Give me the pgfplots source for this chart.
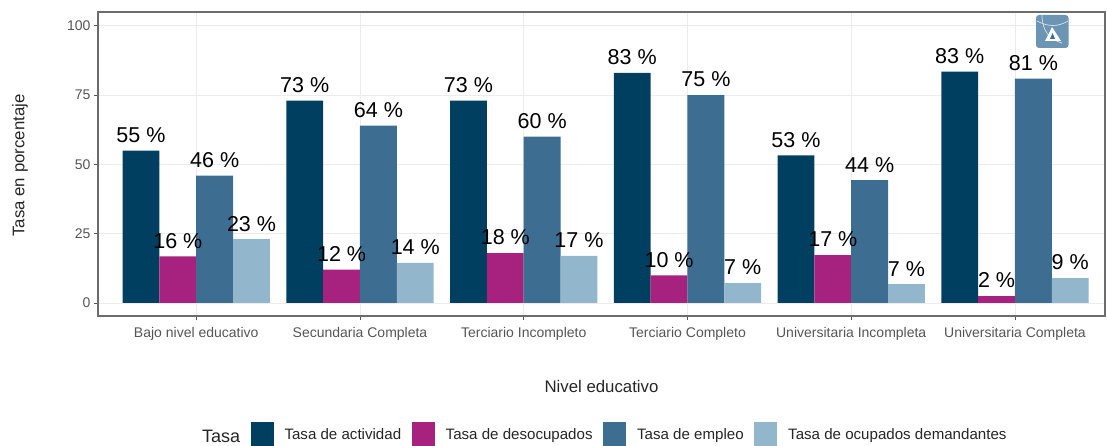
\documentclass[border=0pt]{standalone}
\usepackage{pgfplots}
\pgfplotsset{compat=1.18}
\usepackage{fontspec}
\setmainfont{Liberation Sans}
\definecolor{cA}{HTML}{003F5F}
\definecolor{cB}{HTML}{A6227E}
\definecolor{cC}{HTML}{3E6D92}
\definecolor{cD}{HTML}{92B6CC}
\definecolor{tk}{HTML}{555555}
\definecolor{gr}{HTML}{ECECEC}
\definecolor{logo}{HTML}{6B95B3}
\begin{document}
\begin{tikzpicture}[x=1pt,y=1pt]
\path[use as bounding box] (0,0) rectangle (1107,445);
\begin{axis}[
  at={(98pt,129pt)}, anchor=south west,
  scale only axis, width=1007pt, height=304pt,
  xmin=-0.6, xmax=5.55, ymin=-4.7, ymax=105,
  xtick={0,1,2,3,4,5},
  xticklabels={Bajo nivel educativo,Secundaria Completa,Terciario Incompleto,Terciario Completo,Universitaria Incompleta,Universitaria Completa},
  ytick={0,25,50,75,100},
  /pgf/number format/assume math mode=true,
  tick label style={font=\fontsize{14}{16}\selectfont, text=tk},
  xticklabel style={yshift=-4pt},
  tick style={color=tk, line width=0.8pt},
  tick align=outside, major tick length=4pt,
  xtick pos=bottom, ytick pos=left,
  grid=major, major grid style={color=gr, line width=0.8pt},
  axis line style={color=gray!85!black, line width=1.2pt},
  xlabel={Nivel educativo}, ylabel={Tasa en porcentaje},
  label style={font=\fontsize{16.8}{18}\selectfont, text=black!85},
  xlabel style={at={(axis description cs:0.5,0)}, anchor=center, yshift=-70pt},
  ylabel style={at={(axis description cs:0,0.5)}, anchor=center, yshift=78pt, xshift=-1.5pt},
  point meta=explicit symbolic,
  nodes near coords,
  every node near coord/.append style={font=\fontsize{21.5}{24}\selectfont, text=black, anchor=center, yshift=15.5pt, inner sep=0pt},
  legend columns=4,
  legend style={at={(axis description cs:0.5,0)}, anchor=north, draw=none, fill=none, font=\fontsize{15.1}{17}\selectfont, text=black!85, xshift=28pt, yshift=-106pt, inner sep=0pt, outer sep=0pt,
    /tikz/every even column/.append style={column sep=8.5pt},
    /tikz/every odd column/.append style={column sep=9pt}},
  legend image code/.code={\fill[#1] (0pt,-12pt) rectangle (23pt,12pt);},
]
\addplot[ybar, bar width=0.225, bar shift=0pt, fill=cA, draw=none] coordinates {
 (-0.3375,55)[55 \%] (0.6625,73)[73 \%] (1.6625,73)[73 \%] (2.6625,83)[83 \%] (3.6625,53.3)[53 \%] (4.6625,83.5)[83 \%]};
\addplot[ybar, bar width=0.225, bar shift=0pt, fill=cB, draw=none] coordinates {
 (-0.1125,16.8)[16 \%] (0.8875,12)[12 \%] (1.8875,18)[18 \%] (2.8875,10)[10 \%] (3.8875,17.3)[17 \%] (4.8875,2.5)[2 \%]};
\addplot[ybar, bar width=0.225, bar shift=0pt, fill=cC, draw=none] coordinates {
 (0.1125,46)[46 \%] (1.1125,64)[64 \%] (2.1125,60)[60 \%] (3.1125,75)[75 \%] (4.1125,44.3)[44 \%] (5.1125,81)[81 \%]};
\addplot[ybar, bar width=0.225, bar shift=0pt, fill=cD, draw=none] coordinates {
 (0.3375,23)[23 \%] (1.3375,14.5)[14 \%] (2.3375,17)[17 \%] (3.3375,7.2)[7 \%] (4.3375,6.8)[7 \%] (5.3375,9)[9 \%]};
\legend{\raisebox{-2.5pt}{Tasa de actividad},\raisebox{-2.5pt}{Tasa de desocupados},\raisebox{-2.5pt}{Tasa de empleo},\raisebox{-2.5pt}{Tasa de ocupados demandantes}}
\end{axis}
\node[anchor=west, inner sep=0pt, font=\fontsize{18}{20}\selectfont, text=black!85] at (202,9) {Tasa};
% watermark
\fill[logo, rounded corners=3pt] (1036,397) rectangle (1068.5,430);
\draw[white!75!logo, line width=0.7pt] (1037,424) .. controls (1048,418) and (1058,418) .. (1068,424);
\draw[white!75!logo, line width=0.7pt] (1042,430) .. controls (1042,414) and (1050,405) .. (1062,402);
\fill[white] (1052,418) -- (1045,404) -- (1061,404) -- cycle;
\fill[cC] (1052.5,412) -- (1050,406) -- (1055,406) -- cycle;
\end{tikzpicture}
\end{document}
